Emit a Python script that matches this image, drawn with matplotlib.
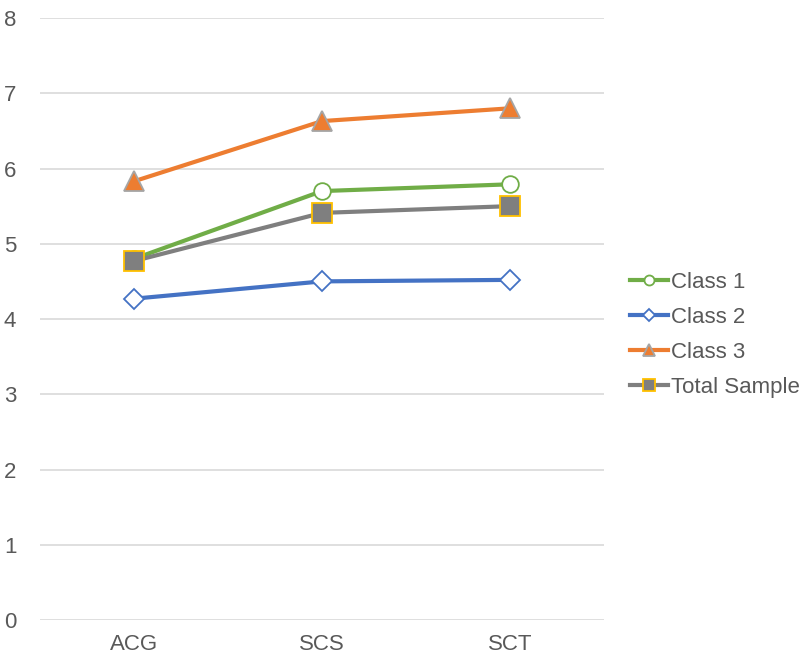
import matplotlib.pyplot as plt

plt.rcParams['font.family'] = ['Liberation Sans', 'DejaVu Sans']

# data
categories = ['ACG', 'SCS', 'SCT']
class1 = [4.80, 5.70, 5.79]
class2 = [4.27, 4.50, 4.52]
class3 = [5.83, 6.63, 6.80]
total = [4.77, 5.41, 5.50]

fig = plt.figure(figsize=(7.99, 6.57), dpi=100)
ax = fig.add_axes([0.050, 0.0563, 0.706, 0.9163])

x = range(len(categories))
ax.plot(x, class1, color='#70AD47', lw=3, marker='o', ms=12,
        mfc='white', mec='#70AD47', mew=1.3, label='Class 1', zorder=3)
ax.plot(x, class2, color='#4472C4', lw=3, marker='D', ms=10,
        mfc='white', mec='#4472C4', mew=1.3, label='Class 2', zorder=3)
ax.plot(x, class3, color='#ED7D31', lw=3, marker='^', ms=15,
        mfc='#ED7D31', mec='#A5A5A5', mew=1.3, label='Class 3', zorder=3)
ax.plot(x, total, color='#7F7F7F', lw=3, marker='s', ms=14,
        mfc='#7F7F7F', mec='#FFC000', mew=1.3, label='Total Sample', zorder=4)

ax.set_xlim(-0.5, 2.5)
ax.set_ylim(0, 8)
ax.set_xticks(list(x))
ax.set_xticklabels(categories)
ax.set_yticks(range(0, 9))
ax.grid(axis='y', color='#D9D9D9', lw=1.2)
ax.set_axisbelow(True)
for s in ax.spines.values():
    s.set_visible(False)
ax.tick_params(length=0, labelsize=16, colors='#595959')
ax.tick_params(axis='x', pad=10)
ax.tick_params(axis='y', pad=17)

leg = ax.legend(loc='center left', bbox_to_anchor=(1.046, 0.473), frameon=False,
                fontsize=16, handlelength=1.7, handletextpad=0.15,
                labelspacing=0.63, markerscale=0.6,
                borderaxespad=0, borderpad=0)
for t in leg.get_texts():
    t.set_color('#595959')

fig.savefig('out.png', dpi=100)
